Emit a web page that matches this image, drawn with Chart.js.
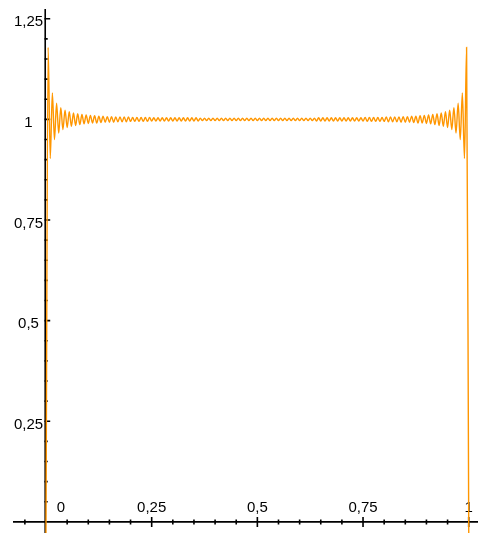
<!DOCTYPE html>
<html><head><meta charset="utf-8">
<script src="https://cdn.jsdelivr.net/npm/chart.js@4/dist/chart.umd.min.js"></script>
<style>html,body{margin:0;padding:0;background:#fff;overflow:hidden}#wrap{width:478px;height:533px;position:relative}</style>
</head><body><div id="wrap"><canvas id="c" width="478" height="533"></canvas></div>
<script>
// x positions of the curve's turning points
const xValues = [-0.005,
0,0.005,0.01,0.015,0.02,0.025,0.03,0.035,0.04,0.045,0.05,0.055,0.06,0.065,0.07,0.075,0.08,0.085,0.09,0.095,
0.1,0.105,0.11,0.115,0.12,0.125,0.13,0.135,0.14,0.145,0.15,0.155,0.16,0.165,0.17,0.175,0.18,0.185,0.19,0.195,
0.2,0.205,0.21,0.215,0.22,0.225,0.23,0.235,0.24,0.245,0.25,0.255,0.26,0.265,0.27,0.275,0.28,0.285,0.29,0.295,
0.3,0.305,0.31,0.315,0.32,0.325,0.33,0.335,0.34,0.345,0.35,0.355,0.36,0.365,0.37,0.375,0.38,0.385,0.39,0.395,
0.4,0.405,0.41,0.415,0.42,0.425,0.43,0.435,0.44,0.445,0.45,0.455,0.46,0.465,0.47,0.475,0.48,0.485,0.49,0.495,
0.5,0.505,0.51,0.515,0.52,0.525,0.53,0.535,0.54,0.545,0.55,0.555,0.56,0.565,0.57,0.575,0.58,0.585,0.59,0.595,
0.6,0.605,0.61,0.615,0.62,0.625,0.63,0.635,0.64,0.645,0.65,0.655,0.66,0.665,0.67,0.675,0.68,0.685,0.69,0.695,
0.7,0.705,0.71,0.715,0.72,0.725,0.73,0.735,0.74,0.745,0.75,0.755,0.76,0.765,0.77,0.775,0.78,0.785,0.79,0.795,
0.8,0.805,0.81,0.815,0.82,0.825,0.83,0.835,0.84,0.845,0.85,0.855,0.86,0.865,0.87,0.875,0.88,0.885,0.89,0.895,
0.9,0.905,0.91,0.915,0.92,0.925,0.93,0.935,0.94,0.945,0.95,0.955,0.96,0.965,0.97,0.975,0.98,0.985,0.99,0.995,
1,1.005];
// curve values at those points
const yValues = [-1.179,
0,1.179,0.903,1.066,0.950,1.040,0.966,1.029,0.975,1.023,0.980,1.019,0.983,1.016,0.985,1.014,0.987,1.012,0.989,1.011,
0.990,1.010,0.991,1.009,0.991,1.008,0.992,1.008,0.993,1.007,0.993,1.007,0.993,1.006,0.994,1.006,0.994,1.006,0.994,1.006,
0.995,1.005,0.995,1.005,0.995,1.005,0.995,1.005,0.995,1.005,0.996,1.004,0.996,1.004,0.996,1.004,0.996,1.004,0.996,1.004,
0.996,1.004,0.996,1.004,0.996,1.004,0.996,1.004,0.996,1.004,0.996,1.004,0.996,1.003,0.997,1.003,0.997,1.003,0.997,1.003,
0.997,1.003,0.997,1.003,0.997,1.003,0.997,1.003,0.997,1.003,0.997,1.003,0.997,1.003,0.997,1.003,0.997,1.003,0.997,1.003,
0.997,1.003,0.997,1.003,0.997,1.003,0.997,1.003,0.997,1.003,0.997,1.003,0.997,1.003,0.997,1.003,0.997,1.003,0.997,1.003,
0.997,1.003,0.997,1.003,0.997,1.003,0.997,1.003,0.996,1.004,0.996,1.004,0.996,1.004,0.996,1.004,0.996,1.004,0.996,1.004,
0.996,1.004,0.996,1.004,0.996,1.004,0.996,1.004,0.996,1.004,0.996,1.005,0.995,1.005,0.995,1.005,0.995,1.005,0.995,1.005,
0.995,1.006,0.994,1.006,0.994,1.006,0.994,1.006,0.993,1.007,0.993,1.007,0.993,1.008,0.992,1.008,0.991,1.009,0.991,1.010,
0.990,1.011,0.989,1.012,0.987,1.014,0.985,1.016,0.983,1.019,0.980,1.023,0.975,1.029,0.966,1.040,0.950,1.066,0.903,1.179,
0,-1.179];

const xMajorTicks = [0, 0.25, 0.5, 0.75, 1];
const xTickLabels = ['0', '0,25', '0,5', '0,75', '1'];
const xMinorTicks = [-0.05,0.05,0.1,0.15,0.2,0.3,0.35,0.4,0.45,0.55,0.6,0.65,0.7,0.8,0.85,0.9,0.95];
const yMajorTicks = [0.25, 0.5, 0.75, 1, 1.25];
const yTickLabels = ['0,25', '0,5', '0,75', '1', '1,25'];
const yMinorTicks = [0.05,0.1,0.15,0.2,0.3,0.35,0.4,0.45,0.55,0.6,0.65,0.7,0.8,0.85,0.9,0.95,1.05,1.1,1.15,1.2];

const points = xValues.map((v, i) => ({x: v, y: yValues[i]}));
const FONT = '15px "Liberation Sans", Arial, Helvetica, sans-serif';

const crossAxes = {
  id: 'crossAxes',
  beforeDatasetsDraw(chart) {
    const {ctx, chartArea: a, scales: {x, y}} = chart;
    const X0 = x.getPixelForValue(0) - 0.8;
    const Y0 = y.getPixelForValue(0);
    ctx.save();
    ctx.strokeStyle = '#000';
    ctx.lineWidth = 1.6;
    ctx.beginPath();
    ctx.moveTo(a.left, Y0); ctx.lineTo(a.right, Y0);
    ctx.moveTo(X0, a.top); ctx.lineTo(X0, a.bottom);
    // x ticks
    xMajorTicks.forEach(v => { const p = x.getPixelForValue(v); if (v !== 0) { ctx.moveTo(p, Y0 - 5); ctx.lineTo(p, Y0 + 5); } });
    xMinorTicks.forEach(v => { const p = x.getPixelForValue(v); ctx.moveTo(p, Y0 - 2.5); ctx.lineTo(p, Y0 + 2.5); });
    // y ticks
    yMajorTicks.forEach(v => { const p = y.getPixelForValue(v); ctx.moveTo(X0 - 1, p); ctx.lineTo(X0 + 5, p); });
    yMinorTicks.forEach(v => { const p = y.getPixelForValue(v); ctx.moveTo(X0 - 1, p); ctx.lineTo(X0 + 2.5, p); });
    ctx.stroke();
    ctx.fillStyle = '#000';
    ctx.font = FONT;
    ctx.textAlign = 'center';
    ctx.textBaseline = 'alphabetic';
    xMajorTicks.forEach((v, i) => {
      const p = x.getPixelForValue(v) + (v === 0 ? 15 : 0);
      ctx.fillText(xTickLabels[i], p, Y0 - 10);
    });
    yMajorTicks.forEach((v, i) => {
      const p = y.getPixelForValue(v);
      ctx.fillText(yTickLabels[i], 28.5, p + 7.5);
    });
    ctx.restore();
  }
};

new Chart(document.getElementById('c'), {
  type: 'line',
  data: {
    datasets: [{
      data: points,
      borderColor: 'rgb(255,150,0)',
      borderWidth: 1.4,
      pointRadius: 0,
      fill: false,
      cubicInterpolationMode: 'monotone'
    }]
  },
  options: {
    responsive: false,
    devicePixelRatio: 1,
    animation: false,
    layout: {padding: {left: 13, top: 9, right: 0, bottom: 0}},
    plugins: {legend: {display: false}, tooltip: {enabled: false}},
    scales: {
      x: {type: 'linear', display: false, min: -0.0781, max: 1.022},
      y: {type: 'linear', display: false, min: -0.0276, max: 1.2743}
    }
  },
  plugins: [crossAxes]
});
</script></body></html>
